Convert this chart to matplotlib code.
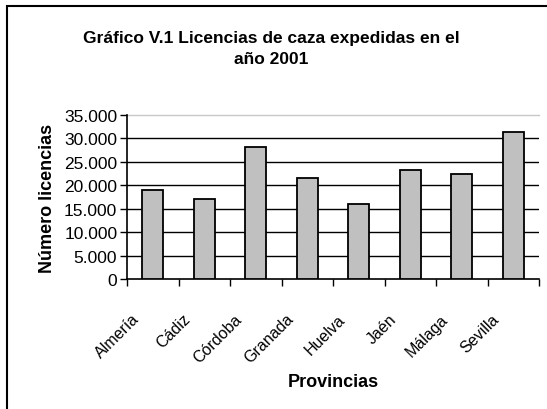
import numpy as np
import matplotlib
matplotlib.use("Agg")
import matplotlib.pyplot as plt
import matplotlib.transforms as mtransforms
from matplotlib.patches import Rectangle
from matplotlib.ticker import FuncFormatter, MultipleLocator, FixedLocator

plt.rcParams['font.family'] = ['Liberation Sans', 'DejaVu Sans']

# Data
provincias = ['Almería', 'Cádiz', 'Córdoba', 'Granada', 'Huelva', 'Jaén', 'Málaga', 'Sevilla']
licencias = [18900, 17100, 28150, 21650, 15900, 23250, 22400, 31350]

fig = plt.figure(figsize=(5.47, 4.10), dpi=100)
ax = fig.add_axes([127/547, 1 - 280/410, (539 - 127)/547, (280 - 116)/410])

x = np.arange(len(provincias))
ax.bar(x, licencias, width=0.41, color='#c0c0c0', edgecolor='black', linewidth=1.3, zorder=3)

ax.set_xlim(-0.5, len(provincias) - 0.5)
ax.set_ylim(0, 35000)

# black gridlines, light top line
for v in range(5000, 35000, 5000):
    ax.axhline(v, color='black', linewidth=1.0, zorder=1)
ax.axhline(35000, color='#c8c8c8', linewidth=1.0, zorder=1, clip_on=False)

for side in ['top', 'right']:
    ax.spines[side].set_visible(False)
ax.spines['left'].set_linewidth(1.2)
ax.spines['bottom'].set_linewidth(1.2)

ax.yaxis.set_major_locator(MultipleLocator(5000))
ax.yaxis.set_major_formatter(FuncFormatter(lambda v, p: f"{int(v):,}".replace(',', '.')))
ax.tick_params(axis='y', direction='out', length=5, width=1.0, labelsize=12.5, pad=2)

# ticks on category boundaries, labels at centres
ax.xaxis.set_major_locator(FixedLocator(np.arange(-0.5, len(provincias), 1.0)))
ax.xaxis.set_major_formatter(FuncFormatter(lambda v, p: ''))
ax.xaxis.set_minor_locator(FixedLocator(x))
ax.set_xticklabels(provincias, minor=True, rotation=45, ha='right', fontsize=11.5)
ax.tick_params(axis='x', which='major', direction='out', length=5, width=1.0)
ax.tick_params(axis='x', which='minor', length=0, pad=23)
offset = mtransforms.ScaledTranslation(-11/100, 0, fig.dpi_scale_trans)
for lbl in ax.xaxis.get_minorticklabels():
    lbl.set_transform(lbl.get_transform() + offset)

ax.set_xlabel('Provincias', fontsize=13, fontweight='bold', labelpad=5)
ax.set_ylabel('Número licencias', fontsize=13, fontweight='bold', labelpad=6)

fig.text(271/547, 1 - 38/410, 'Gráfico V.1 Licencias de caza expedidas en el',
         ha='center', va='center', fontsize=12.5, fontweight='bold')
fig.text(271/547, 1 - 60/410, 'año 2001',
         ha='center', va='center', fontsize=12.5, fontweight='bold')

# outer chart border (left and top visible)
fig.add_artist(Rectangle((7/547, -0.1), 1.2, 1 - 7/410 + 0.1, transform=fig.transFigure,
                         fill=False, edgecolor='black', linewidth=1.5))

fig.savefig('out.png', dpi=100)
